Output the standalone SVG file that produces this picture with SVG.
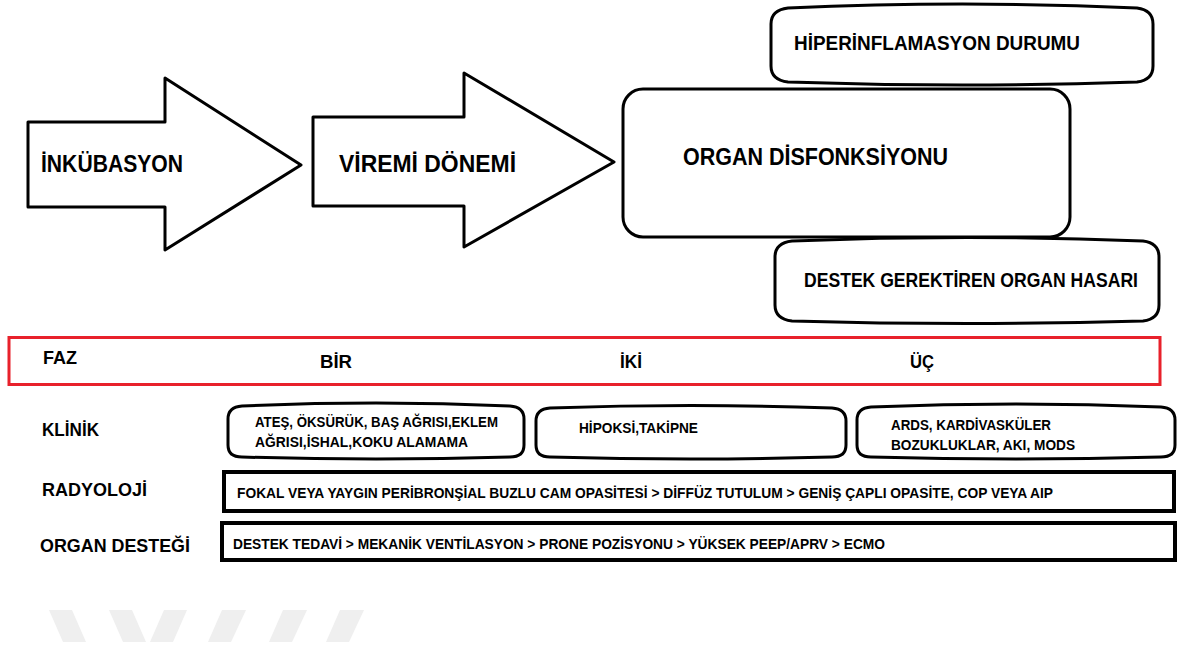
<svg xmlns="http://www.w3.org/2000/svg" width="1184" height="649" viewBox="0 0 1184 649">
<style>
  .bg { fill: #ffffff; }
  .shape { fill: #ffffff; stroke: #000000; stroke-width: 3; stroke-linejoin: round; }
  .thick { fill: #ffffff; stroke: #000000; stroke-width: 4; }
  .red { fill: none; stroke: #e8212b; stroke-width: 3; }
  .wm { fill: #efefef; }
  text { font-family: "Liberation Sans", Arial, sans-serif; font-weight: bold; fill: #000000; }
  .t23 { font-size: 23px; }
  .t21 { font-size: 21px; }
  .t20 { font-size: 19px; }
  .t19 { font-size: 19.5px; }
  .t18 { font-size: 18px; }
  .t17 { font-size: 15.5px; }
  .t14 { font-size: 14px; }
</style>
<rect class="bg" x="0" y="0" width="1184" height="649"/>

<g id="watermark">
  <polygon class="wm" points="49,610 72,610 86,642 63,642"/>
  <polygon class="wm" points="109,610 132,610 146,642 123,642"/>
  <polygon class="wm" points="164,610 187,610 173,642 150,642"/>
  <polygon class="wm" points="222,610 246,610 231,642 208,642"/>
  <polygon class="wm" points="283,610 307,610 292,642 269,642"/>
  <polygon class="wm" points="340,610 364,610 349,642 326,642"/>
</g>

<g id="node-inkubasyon">
  <polygon class="shape" points="28,122 165,122 165,78 301,165 165,250 165,207 28,207"/>
  <text class="t23" x="41" y="172" textLength="142" lengthAdjust="spacingAndGlyphs">İNKÜBASYON</text>
</g>
<g id="node-viremi">
  <polygon class="shape" points="313,117 464,117 464,73 614,162 464,247 464,206 313,206"/>
  <text class="t23" x="339" y="172" textLength="177" lengthAdjust="spacingAndGlyphs">VİREMİ DÖNEMİ</text>
</g>
<g id="node-hiper">
  <path class="shape" d="M788,8 Q962,0 1137,8 Q1153,10 1153,24 L1153,66 Q1153,80 1137,82 Q962,88 788,82 Q771,80 771,66 L771,24 Q771,10 788,8 Z"/>
  <text class="t21" x="794" y="50" textLength="286" lengthAdjust="spacingAndGlyphs">HİPERİNFLAMASYON DURUMU</text>
</g>
<g id="node-organ">
  <rect class="shape" x="623" y="89" width="447" height="148" rx="20" ry="20"/>
  <text class="t23" x="683" y="165" textLength="265" lengthAdjust="spacingAndGlyphs">ORGAN DİSFONKSİYONU</text>
</g>
<g id="node-destek">
  <path class="shape" d="M792,241 Q967,234 1143,241 Q1159,243 1159,257 L1159,305 Q1159,319 1143,321 Q967,326 792,321 Q775,319 775,305 L775,257 Q775,243 792,241 Z"/>
  <text class="t19" x="804" y="287" textLength="334" lengthAdjust="spacingAndGlyphs">DESTEK GEREKTİREN ORGAN HASARI</text>
</g>

<g id="node-faz">
  <rect class="red" x="9" y="337.5" width="1151" height="47"/>
  <text class="t18" x="43" y="364" textLength="34" lengthAdjust="spacingAndGlyphs">FAZ</text>
  <text class="t20" x="320" y="368" textLength="32" lengthAdjust="spacingAndGlyphs">BİR</text>
  <text class="t20" x="620" y="368" textLength="22" lengthAdjust="spacingAndGlyphs">İKİ</text>
  <text class="t20" x="910" y="368" textLength="24" lengthAdjust="spacingAndGlyphs">ÜÇ</text>
</g>

<g id="node-klinik">
  <text class="t20" x="42" y="436" textLength="57" lengthAdjust="spacingAndGlyphs">KLİNİK</text>
</g>
<g id="node-klinik-1">
  <path class="shape" d="M242,406 Q376,400 510,406 Q524,407 524,419 L524,445 Q524,457 510,457 Q376,461 242,457 Q228,457 228,445 L228,419 Q228,407 242,406 Z"/>
  <text class="t14" x="255" y="427" textLength="243" lengthAdjust="spacingAndGlyphs">ATEŞ, ÖKSÜRÜK, BAŞ AĞRISI,EKLEM</text>
  <text class="t14" x="255" y="447" textLength="213" lengthAdjust="spacingAndGlyphs">AĞRISI,İSHAL,KOKU ALAMAMA</text>
</g>
<g id="node-klinik-2">
  <path class="shape" d="M550,408 Q691,403 832,408 Q846,409 846,421 L846,445 Q846,457 832,457 Q691,461 550,457 Q536,457 536,445 L536,421 Q536,409 550,408 Z"/>
  <text class="t14" x="579" y="433" textLength="119" lengthAdjust="spacingAndGlyphs">HİPOKSİ,TAKİPNE</text>
</g>
<g id="node-klinik-3">
  <path class="shape" d="M871,407 Q1016,401 1161,407 Q1175,408 1175,420 L1175,445 Q1175,457 1161,457 Q1016,461 871,457 Q857,457 857,445 L857,420 Q857,408 871,407 Z"/>
  <text class="t14" x="891" y="430" textLength="160" lengthAdjust="spacingAndGlyphs">ARDS, KARDİVASKÜLER</text>
  <text class="t14" x="891" y="450" textLength="184" lengthAdjust="spacingAndGlyphs">BOZUKLUKLAR, AKI, MODS</text>
</g>

<g id="node-radyoloji">
  <text class="t20" x="42" y="496" textLength="105" lengthAdjust="spacingAndGlyphs">RADYOLOJİ</text>
  <rect class="thick" x="224" y="472" width="950" height="39"/>
  <text class="t17" x="237" y="498" textLength="816" lengthAdjust="spacingAndGlyphs">FOKAL VEYA YAYGIN PERİBRONŞİAL BUZLU CAM OPASİTESİ &gt; DİFFÜZ TUTULUM &gt; GENİŞ ÇAPLI OPASİTE, COP VEYA AIP</text>
</g>

<g id="node-organ-destegi">
  <text class="t20" x="40" y="552" textLength="150" lengthAdjust="spacingAndGlyphs">ORGAN DESTEĞİ</text>
  <rect class="thick" x="222" y="523" width="953" height="37"/>
  <text class="t17" x="233" y="549" textLength="652" lengthAdjust="spacingAndGlyphs">DESTEK TEDAVİ &gt; MEKANİK VENTİLASYON &gt; PRONE POZİSYONU &gt; YÜKSEK PEEP/APRV &gt; ECMO</text>
</g>

<g id="connectors"></g>
</svg>
